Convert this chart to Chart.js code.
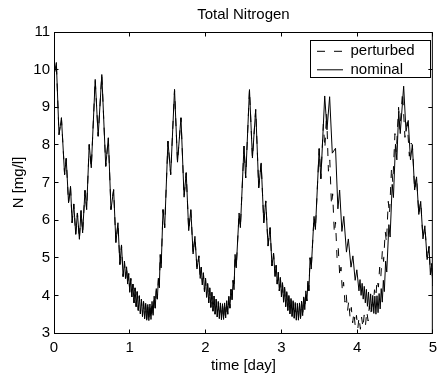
<!DOCTYPE html>
<html>
<head>
<meta charset="utf-8">
<script src="https://cdn.jsdelivr.net/npm/chart.js@4/dist/chart.umd.min.js"></script>
<style>
html,body{margin:0;padding:0;background:#fff;}
#c{display:block;}
</style>
</head>
<body>
<canvas id="c" width="443" height="375" style="width:443px;height:375px"></canvas>
<script>
// ---- chart text ----
const chartTitle = 'Total Nitrogen';
const xTitle = 'time [day]';
const yTitle = 'N [mg/l]';
const seriesNames = ['perturbed', 'nominal'];
const xTicks = [0, 1, 2, 3, 4, 5];
const yTicks = [3, 4, 5, 6, 7, 8, 9, 10, 11];

// ---- nominal series (time in days, total N in mg/l) ----
const nominalT = [
0.000,0.031,0.066,0.098,0.140,0.161,0.192,0.218,0.239,0.261,0.287,0.309,0.335,0.357,0.378,0.409,0.431,0.465,0.492,0.544,
0.583,0.631,0.683,0.717,0.752,0.787,0.817,0.844,0.870,0.891,0.912,
0.930,0.944,0.958,0.972,0.986,1.000,1.014,1.028,1.042,1.056,1.070,1.084,1.098,1.112,1.126,1.140,1.154,1.168,1.182,1.196,
1.210,1.224,1.238,1.252,1.266,1.280,1.294,1.308,1.322,1.336,1.350,1.364,1.378,1.390,1.402,1.414,
1.439,1.461,1.504,1.540,1.591,1.630,1.676,1.717,1.745,1.778,1.806,1.836,1.860,1.887,1.912,
1.930,1.944,1.958,1.972,1.986,2.000,2.014,2.028,2.042,2.056,2.070,2.084,2.098,2.112,2.126,2.140,2.154,2.168,2.182,2.196,
2.210,2.224,2.238,2.252,2.266,2.280,2.294,2.308,2.322,2.336,2.350,2.364,2.376,2.390,2.405,
2.443,2.460,2.508,2.530,2.580,2.619,2.662,2.702,2.734,2.769,2.795,2.825,2.852,2.877,2.898,
2.918,2.932,2.946,2.960,2.974,2.988,3.002,3.016,3.030,3.044,3.058,3.072,3.086,3.100,3.114,3.128,3.142,3.156,3.170,3.184,
3.198,3.212,3.226,3.240,3.254,3.268,3.282,3.296,3.310,3.324,3.338,3.352,3.364,3.380,3.395,
3.432,3.450,3.500,3.522,3.573,3.603,3.638,3.673,3.716,3.747,3.770,3.800,3.825,3.860,3.885,3.920,3.945,3.975,3.997,
4.025,4.039,4.053,4.067,4.081,4.095,4.109,4.123,4.137,4.151,4.165,4.179,4.193,4.207,4.221,4.235,4.249,4.263,4.277,4.291,
4.305,4.319,4.333,4.347,4.360,
4.377,4.392,4.420,4.436,4.464,4.480,4.507,4.525,4.550,4.570,4.615,4.646,4.675,4.705,4.730,4.760,4.785,4.815,4.840,
4.870,4.895,4.925,4.950,4.968,4.985,5.000
];
const nominalN = [
9.85,10.19,8.27,8.72,7.21,7.64,6.46,6.90,5.93,6.43,5.62,6.19,5.49,6.26,5.66,6.79,6.28,8.01,7.39,9.74,
8.23,9.87,7.43,8.19,6.28,6.81,5.40,5.93,4.82,5.34,4.50,
4.91,4.45,4.76,4.30,4.58,4.08,4.45,3.96,4.30,3.80,4.20,3.70,4.10,3.60,3.99,3.51,3.90,3.44,3.84,3.38,
3.79,3.34,3.76,3.33,3.77,3.36,3.84,3.47,3.98,3.66,4.18,3.90,4.45,4.20,5.09,4.73,
6.28,5.80,8.10,7.21,9.47,7.54,8.72,6.61,7.26,5.72,6.28,5.10,5.57,4.70,5.05,
4.45,4.75,4.28,4.60,4.10,4.46,3.95,4.32,3.80,4.20,3.68,4.08,3.58,3.98,3.50,3.90,3.43,3.84,3.38,3.80,
3.35,3.78,3.36,3.80,3.40,3.86,3.50,3.98,3.66,4.16,3.88,4.40,4.15,5.09,4.73,
6.19,5.80,7.97,7.12,9.47,7.65,8.94,6.86,7.52,5.93,6.51,5.31,5.80,4.78,5.12,
4.50,4.80,4.30,4.62,4.12,4.48,3.96,4.34,3.82,4.22,3.70,4.10,3.60,4.00,3.51,3.92,3.44,3.86,3.39,3.81,
3.34,3.79,3.34,3.80,3.38,3.85,3.46,3.96,3.62,4.12,3.85,4.38,4.12,5.00,4.70,
6.10,5.75,7.90,7.10,9.30,8.40,9.28,7.78,7.91,6.30,6.80,5.70,6.10,5.15,5.50,4.75,5.05,4.40,4.68,
4.12,4.42,4.00,4.32,3.90,4.24,3.80,4.16,3.71,4.09,3.63,4.04,3.57,4.00,3.52,3.98,3.50,3.99,3.54,4.05,
3.64,4.18,3.82,4.40,4.10,
4.91,4.62,5.88,5.55,6.95,6.60,8.01,7.60,8.89,8.30,9.56,8.36,8.65,7.60,8.00,6.80,7.15,6.15,6.50,
5.50,5.85,4.95,5.30,4.55,4.85,4.25
];

// ---- perturbed series: the stretch where it leaves the nominal curve ----
const perturbedT = [
3.555,3.575,3.598,3.622,3.640,3.662,3.678,3.700,3.716,3.736,3.752,3.772,3.788,3.806,3.822,3.840,3.856,3.874,3.890,3.908,
3.924,3.942,3.958,3.976,3.992,4.010,4.026,4.044,4.060,4.078,4.094,4.112,4.128,4.146,4.162,4.180,4.196,4.214,4.230,4.248,
4.264,4.282,4.298,4.314,4.334,4.350,4.372,4.388,4.412,4.428,4.455,4.472,4.500,4.518,4.548,4.566,4.600,4.632,4.662,4.690,
4.712
];
const perturbedN = [
8.55,7.90,8.85,7.30,7.60,6.40,6.70,5.65,5.95,5.00,5.25,4.50,4.75,4.10,4.35,3.82,4.05,3.58,3.85,3.40,
3.68,3.27,3.55,3.18,3.47,3.12,3.42,3.10,3.42,3.14,3.48,3.22,3.58,3.32,3.72,3.48,3.92,3.70,4.15,3.95,
4.42,4.22,4.75,4.50,5.20,4.90,5.70,5.40,6.50,6.15,7.40,7.00,8.30,7.80,9.00,8.40,9.40,8.20,8.60,7.70,
8.05
];

// ---- build point tables for the library ----
const nominalData = nominalT.map((t, i) => ({x: t, y: nominalN[i]}));
const pStart = perturbedT[0], pEnd = perturbedT[perturbedT.length - 1];
const perturbedData = [
  ...nominalData.filter(p => p.x < pStart),
  ...perturbedT.map((t, i) => ({x: t, y: perturbedN[i]})),
  ...nominalData.filter(p => p.x > pEnd)
];

const FONT = "'Liberation Sans', Arial, Helvetica, sans-serif";
Chart.defaults.font.family = FONT;
Chart.defaults.font.size = 15;
Chart.defaults.color = '#000';

const framePlugin = {
  id: 'matlabFrame',
  beforeDraw(chart) {
    const lg = chart.legend;
    if (lg) { lg.left = 313.5; lg.top = 40.3; }
  },
  afterDraw(chart) {
    const {ctx, chartArea: a, scales} = chart;
    const xs = scales.x, ys = scales.y;
    ctx.save();
    ctx.setLineDash([]);
    ctx.strokeStyle = '#000';
    ctx.lineWidth = 1;
    const L = a.left + 0.5, R = a.right - 0.5, T = a.top + 0.5, B = a.bottom + 0.5;
    ctx.strokeRect(L, T, R - L, B - T);
    const tl = 4;
    ctx.beginPath();
    xTicks.forEach(v => {
      const p = Math.floor(xs.getPixelForValue(v)) + 0.5;
      ctx.moveTo(p, B); ctx.lineTo(p, B - tl);
      ctx.moveTo(p, T); ctx.lineTo(p, T + tl);
    });
    yTicks.forEach(v => {
      const p = Math.floor(ys.getPixelForValue(v)) + 0.5;
      ctx.moveTo(L, p); ctx.lineTo(L + tl, p);
      ctx.moveTo(R, p); ctx.lineTo(R - tl, p);
    });
    ctx.stroke();
    // legend frame
    ctx.strokeRect(310.5, 40.5, 120, 37);
    ctx.restore();
  }
};

new Chart(document.getElementById('c'), {
  type: 'line',
  data: {
    datasets: [
      { label: seriesNames[0], data: perturbedData, borderColor: '#000', backgroundColor: '#000',
        borderWidth: 1, borderDash: [8, 9], pointRadius: 0, fill: false, tension: 0, order: 2 },
      { label: seriesNames[1], data: nominalData, borderColor: '#000', backgroundColor: '#000',
        borderWidth: 1, pointRadius: 0, fill: false, tension: 0, order: 1 }
    ]
  },
  options: {
    responsive: false,
    animation: false,
    events: [],
    layout: { padding: { left: 0, right: 5, top: 0, bottom: 0 } },
    plugins: {
      title: { display: true, text: chartTitle, fullSize: false, color: '#000',
               font: { size: 15, weight: 'normal', family: FONT }, padding: { top: 6, bottom: 8 } },
      legend: {
        display: true, position: 'chartArea', align: 'start',
        labels: {
          usePointStyle: true, pointStyle: 'line', pointStyleWidth: 26,
          color: '#000', font: { size: 15, family: FONT }, padding: 3.5,
          sort: (a, b) => a.datasetIndex - b.datasetIndex,
          generateLabels(chart) {
            const items = Chart.defaults.plugins.legend.labels.generateLabels(chart);
            items.forEach(it => {
              const ds = chart.data.datasets[it.datasetIndex];
              it.lineDash = ds.borderDash || [];
              it.lineWidth = 1;
              it.strokeStyle = '#000';
            });
            return items;
          }
        }
      },
      tooltip: { enabled: false }
    },
    scales: {
      x: {
        type: 'linear', min: 0, max: 5,
        afterFit(s) { s.height = 42; },
        afterBuildTicks(s) { s.ticks = xTicks.map(v => ({ value: v })); },
        ticks: { color: '#000', padding: 6, maxRotation: 0, autoSkip: false, font: { size: 15, family: FONT } },
        grid: { display: false, drawTicks: false },
        border: { display: false },
        title: { display: true, text: xTitle, color: '#000', font: { size: 15, family: FONT }, padding: { top: 0, bottom: 0 } }
      },
      y: {
        type: 'linear', min: 3, max: 11,
        afterFit(s) { s.width = 54; },
        afterBuildTicks(s) { s.ticks = yTicks.map(v => ({ value: v })); },
        ticks: { color: '#000', padding: 4, autoSkip: false, font: { size: 15, family: FONT } },
        grid: { display: false, drawTicks: false },
        border: { display: false },
        title: { display: true, text: yTitle, color: '#000', font: { size: 15, family: FONT }, padding: { top: 10, bottom: 0 } }
      }
    }
  },
  plugins: [framePlugin]
});
</script>
</body>
</html>
